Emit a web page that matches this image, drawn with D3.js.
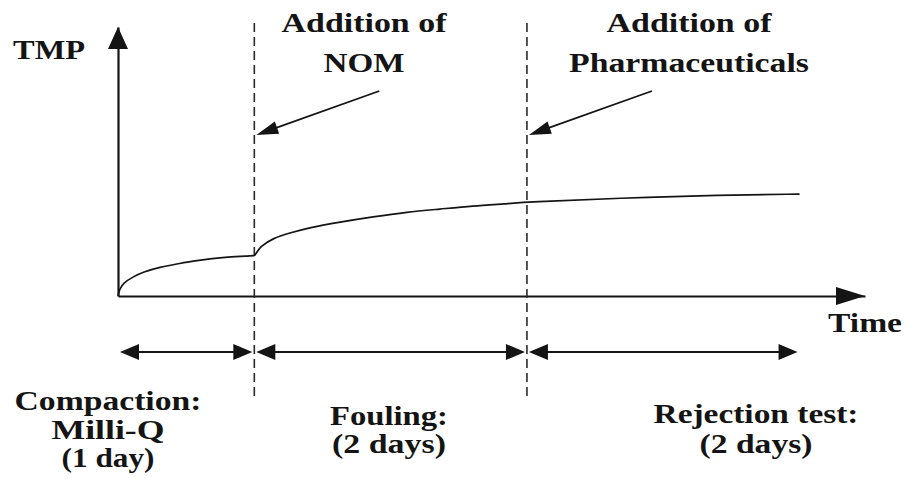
<!DOCTYPE html>
<html>
<head>
<meta charset="utf-8">
<script src="https://cdn.jsdelivr.net/npm/d3@7"></script>
<style>
  html, body { margin: 0; padding: 0; background: #fff; }
  svg { display: block; }
</style>
</head>
<body>
<svg id="chart" width="907" height="479"></svg>
<script>
// ---- data ----
const preDays = [0, 0.012, 0.037, 0.110, 0.183, 0.308, 0.433, 0.550, 0.675, 0.800, 0.968, 1.0];
const preTmp = [0, 0.26, 0.48, 0.71, 0.89, 1.08, 1.19, 1.30, 1.38, 1.45, 1.49, 1.50];
const postDays = [1.0, 1.02, 1.04, 1.14, 1.26, 1.39, 1.63, 1.87, 2.12, 2.36, 2.60, 2.85, 3.0, 3.68, 4.42, 5.0];
const postTmp = [1.50, 1.62, 1.82, 2.16, 2.34, 2.53, 2.75, 2.94, 3.12, 3.23, 3.35, 3.43, 3.49, 3.64, 3.75, 3.79];
const eventDays = [1, 3];
const eventLabels = [["Addition of", "NOM"], ["Addition of", "Pharmaceuticals"]];
const phaseStart = [0, 1, 3];
const phaseEnd = [1, 3, 5];
const phaseLabels = [["Compaction:", "Milli-Q", "(1 day)"], ["Fouling:", "(2 days)"], ["Rejection test:", "(2 days)"]];
const axisLabels = { y: "TMP", x: "Time" };

// ---- layout ----
const svg = d3.select("#chart");
const ink = "#141414";
const x = d3.scaleLinear().domain([0, 5.48]).range([118, 865]);
const y = d3.scaleLinear().domain([0, 10]).range([296, 27]);

// text centred at cx, stretched horizontally to the target width
function label(cx, ty, width, str) {
  const t = svg.append("text")
    .style("font-family", '"Liberation Serif"')
    .style("font-weight", "bold")
    .style("font-size", "27px")
    .attr("text-anchor", "middle")
    .attr("fill", ink)
    .text(str);
  const w = t.node().getComputedTextLength() || width;
  t.attr("transform", `translate(${cx},${ty}) scale(${width / w},1)`);
  return t;
}

// axes (no ticks), drawn with d3 axes
const xAxis = d3.axisBottom(x).tickValues([]).tickSizeOuter(0);
const yAxis = d3.axisLeft(y).tickValues([]).tickSizeOuter(0);
svg.append("g").attr("transform", `translate(0,${y(0)})`).call(xAxis)
  .select(".domain").attr("stroke", ink).attr("stroke-width", 2.2);
svg.append("g").attr("transform", `translate(${x(0)},0)`).call(yAxis)
  .select(".domain").attr("stroke", ink).attr("stroke-width", 2.2);

// axis arrowheads
const xEnd = x(x.domain()[1]), yEnd = y(y.domain()[1]);
svg.append("path")
  .attr("d", `M${xEnd},${y(0)} L${xEnd - 29},${y(0) - 9} L${xEnd - 29},${y(0) + 9} Z`)
  .attr("fill", ink);
svg.append("path")
  .attr("d", `M${x(0)},${yEnd} L${x(0) - 10},${yEnd + 22} L${x(0) + 10},${yEnd + 22} Z`)
  .attr("fill", ink);

// axis labels
label(49, 59, 72, axisLabels.y);
label(865, 332, 74, axisLabels.x);

// dashed event lines
svg.selectAll("line.event").data(eventDays).join("line")
  .attr("class", "event")
  .attr("x1", d => x(d)).attr("x2", d => x(d))
  .attr("y1", 23).attr("y2", 400)
  .attr("stroke", "#2a2a2a").attr("stroke-width", 1.6)
  .attr("stroke-dasharray", "9,5");

// TMP curve (two smooth segments, kink at NOM addition)
const line = d3.line().x(d => x(d[0])).y(d => y(d[1])).curve(d3.curveBasis);
[[preDays, preTmp], [postDays, postTmp]].forEach(([ds, vs]) => {
  svg.append("path")
    .datum(ds.map((t, i) => [t, vs[i]]))
    .attr("fill", "none").attr("stroke", ink).attr("stroke-width", 1.7)
    .attr("d", line);
});

// event annotation arrows
function arrowHead(tipX, tipY, fromX, fromY, len, half) {
  const ang = Math.atan2(tipY - fromY, tipX - fromX);
  const bx = tipX - len * Math.cos(ang), by = tipY - len * Math.sin(ang);
  const px = -Math.sin(ang) * half, py = Math.cos(ang) * half;
  return `M${tipX},${tipY} L${bx + px},${by + py} L${bx - px},${by - py} Z`;
}
eventDays.forEach((d) => {
  const tipX = x(d) + 2, tipY = 135;
  const fromX = x(d) + 125, fromY = 91;
  svg.append("line").attr("x1", fromX).attr("y1", fromY)
    .attr("x2", tipX + 12).attr("y2", tipY - 4.3)
    .attr("stroke", ink).attr("stroke-width", 1.8);
  svg.append("path").attr("d", arrowHead(tipX, tipY, fromX, fromY, 22, 6.5)).attr("fill", ink);
});

// event labels
const eventLayout = [
  { cx: 364, widths: [165, 81] },
  { cx: 689, widths: [165, 240] }
];
const eventBaselines = [32, 72];
eventLabels.forEach((lines, i) => {
  lines.forEach((t, j) => {
    label(eventLayout[i].cx, eventBaselines[j], eventLayout[i].widths[j], t);
  });
});

// phase double arrows
const arrowY = 352;
phaseStart.forEach((s, i) => {
  const a = x(s) + 2, b = x(phaseEnd[i]) - 2;
  svg.append("line").attr("x1", a + 10).attr("x2", b - 10)
    .attr("y1", arrowY).attr("y2", arrowY)
    .attr("stroke", ink).attr("stroke-width", 2);
  svg.append("path").attr("d", arrowHead(a, arrowY, b, arrowY, 19, 8)).attr("fill", ink);
  svg.append("path").attr("d", arrowHead(b, arrowY, a, arrowY, 19, 8)).attr("fill", ink);
});

// phase labels
const phaseLayout = [
  { cx: 108, base: [410, 439, 467], widths: [187, 113, 93] },
  { cx: 389, base: [425, 453], widths: [118, 114] },
  { cx: 756, base: [423, 453], widths: [205, 113] }
];
phaseLabels.forEach((lines, i) => {
  lines.forEach((t, j) => {
    label(phaseLayout[i].cx, phaseLayout[i].base[j], phaseLayout[i].widths[j], t);
  });
});
</script>
</body>
</html>
